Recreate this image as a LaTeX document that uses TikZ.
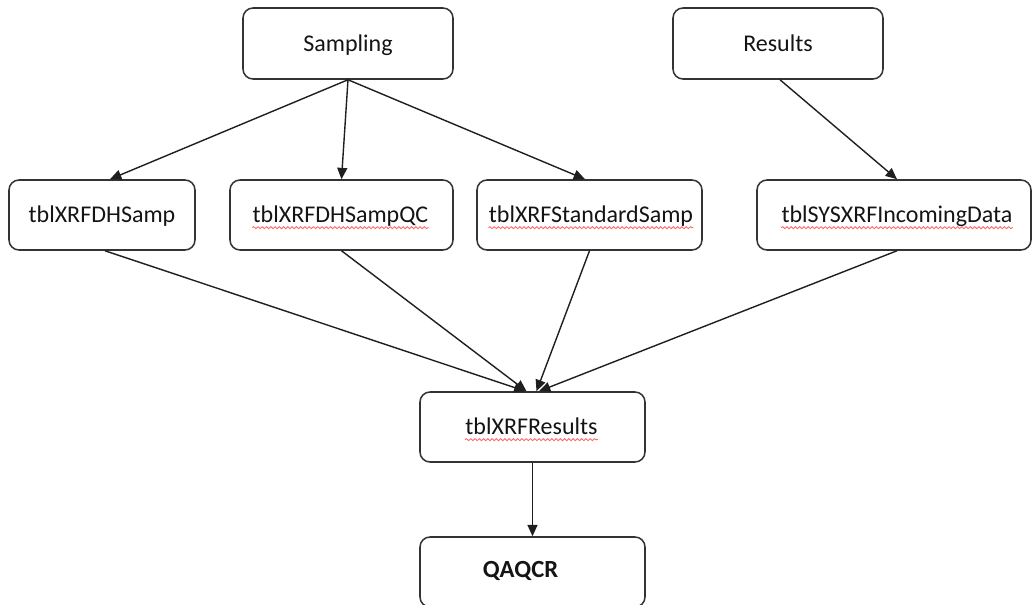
\documentclass[tikz,border=0pt]{standalone}
\usepackage{fontspec}
\setmainfont{Carlito}
\usetikzlibrary{arrows.meta,calc,decorations.pathmorphing}
\begin{document}
\begin{tikzpicture}[x=0.75pt,y=-0.75pt,
  box/.style={draw=black!80,line width=1.15pt,rounded corners=7.5pt,minimum height=52.5pt,inner sep=0pt},
  lbl/.style={inner sep=0pt,anchor=base,font=\fontsize{18}{21}\selectfont,text=black!92},
  conn/.style={draw=black!88,line width=1.05pt,-{Triangle[length=8.5pt,width=7.5pt]}},
  squig/.style={draw=red!60,line width=0.65pt,decorate,decoration={snake,amplitude=0.75pt,segment length=3.2pt}}]
\useasboundingbox (0,0) rectangle (1033,605);

% boxes
\node[box,minimum width=157.5pt,minimum height=53.25pt] (samp) at (348,43.5) {};
\node[box,minimum width=157.5pt,minimum height=53.25pt] (res)  at (778,43.5) {};
\node[box,minimum width=139.5pt] (dh)  at (102,215) {};
\node[box,minimum width=167.25pt] (qc) at (341.5,215) {};
\node[box,minimum width=168.75pt] (std) at (589.5,215) {};
\node[box,minimum width=205.5pt] (inc) at (894,215) {};
\node[box,minimum width=168.75pt] (xr) at (532.5,427) {};
\node[box,minimum width=168.75pt] (qa) at (532.5,572) {};

% labels
\node[lbl] (sampT) at ($(samp)+(0,8.5)$) {Sampling};
\node[lbl] (resT)  at ($(res)+(0,8.5)$) {Results};
\node[lbl] (dhT)   at ($(dh)+(0,8)$) {tblXRFDHSamp};
\node[lbl] (qcT)   at ($(qc)+(-1,8)$) {tblXRFDHSampQC};
\node[lbl] (stdT)  at ($(std)+(1.5,8)$) {tblXRFStandardSamp};
\node[lbl] (incT)  at ($(inc)+(3,8)$) {tblSYSXRFIncomingData};
\node[lbl] (xrT)   at ($(xr)+(-1,8)$) {tblXRFResults};
\node[lbl,font=\fontsize{18.5}{21}\selectfont\bfseries] (qaT) at ($(qa)+(-12,6)$) {QAQCR};

% spell-check squiggles
\foreach \t in {qcT,stdT,incT,xrT}{
  \draw[squig] ([yshift=-3.5pt]\t.base west) -- ([yshift=-3.5pt]\t.base east);
}

% connectors
\draw[conn] (samp.south) -- ($(dh.north)+(8,0)$);
\draw[conn] (samp.south) -- (qc.north);
\draw[conn] (samp.south) -- ($(std.north)+(-4.5,0)$);
\draw[conn] ($(res.south)+(2,0)$) -- ($(inc.north)+(3,0)$);
\draw[conn] ($(dh.south)+(3,0)$) -- ($(xr.north)+(-7,0)$);
\draw[conn] (qc.south) -- ($(xr.north)+(-6,0)$);
\draw[conn] (std.south) -- ($(xr.north)+(4,0)$);
\draw[conn] ($(inc.south)+(3,0)$) -- ($(xr.north)+(6.5,0)$);
\draw[conn] (xr.south) -- (qa.north);
\end{tikzpicture}
\end{document}
